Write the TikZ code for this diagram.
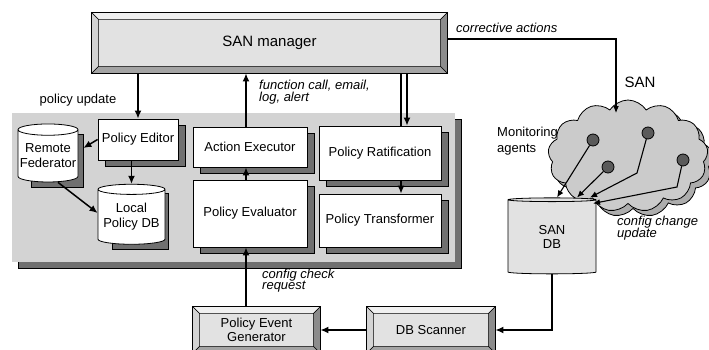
\documentclass[tikz,border=0pt]{standalone}
\usepackage{fontspec}
\setmainfont{Liberation Sans}
\usetikzlibrary{arrows.meta,shapes.geometric,shapes.symbols,shadows,positioning}
\definecolor{panelgray}{HTML}{D3D3D3}
\definecolor{shadegray}{HTML}{707070}
\definecolor{facegray}{HTML}{E2E2E2}
\definecolor{cloudgray}{HTML}{CBCBCB}
\definecolor{dotgray}{HTML}{5A5A5A}
\definecolor{bevtop}{HTML}{F0F0F0}
\definecolor{bevleft}{HTML}{D4D4D4}
\definecolor{bevright}{HTML}{8C8C8C}
\definecolor{bevbot}{HTML}{A4A4A4}
\pgfdeclarelayer{back}
\pgfdeclarelayer{shade}
\pgfsetlayers{back,shade,main}
\newcommand{\tightlines}{\lineskiplimit=-20pt\relax}
\tikzset{
  basic/.style   = {draw, line width=0.8pt, font=\fontsize{13}{15}\selectfont, align=center},
  module/.style  = {basic, rectangle, fill=white, inner sep=0pt,
                    drop shadow={shadow xshift=7pt, shadow yshift=-6pt, fill=shadegray, draw=black, opacity=1}},
  store/.style   = {basic, cylinder, shape border rotate=90, fill=white, inner sep=0pt, aspect=0.2},
  bevelbox/.style = {basic, rectangle, fill=facegray, inner sep=0pt},
  agent/.style   = {circle, draw, line width=0.8pt, fill=dotgray, minimum size=12pt, inner sep=0pt},
  caption/.style = {font=\fontsize{13}{16}\selectfont, inner sep=0pt},
  note/.style    = {font=\fontsize{13}{11.5}\selectfont\itshape\tightlines, align=left, inner sep=0pt},
  arr/.style     = {line width=1.5pt, -{Latex[length=8pt,width=7pt]}},
  tip/.style     = {line width=1.1pt, -{Latex[length=7pt,width=6pt]}}
}
% raised frame round a beveled node
\newcommand{\bevels}[1]{%
  \filldraw[fill=bevtop, line width=0.5pt] (#1.north west) -- (#1.north east) -- ([shift={(-7,-7)}]#1.north east) -- ([shift={(7,-7)}]#1.north west) -- cycle;
  \filldraw[fill=bevleft, line width=0.5pt] (#1.north west) -- ([shift={(7,-7)}]#1.north west) -- ([shift={(7,7)}]#1.south west) -- (#1.south west) -- cycle;
  \filldraw[fill=bevright, line width=0.5pt] (#1.north east) -- ([shift={(-7,-7)}]#1.north east) -- ([shift={(-7,7)}]#1.south east) -- (#1.south east) -- cycle;
  \filldraw[fill=bevbot, line width=0.5pt] (#1.south west) -- ([shift={(7,7)}]#1.south west) -- ([shift={(-7,7)}]#1.south east) -- (#1.south east) -- cycle;
  \draw[line width=0.8pt] (#1.north west) rectangle (#1.south east);
}
\begin{document}
\begin{tikzpicture}[x=1pt,y=1pt]
\useasboundingbox (0,0) rectangle (709,349);
\clip (0,0) rectangle (709,349);

% policy engine panel
\begin{pgfonlayer}{back}
  \filldraw[fill=shadegray, line width=0.8pt] (18,81) rectangle (461,230);
  \fill[panelgray] (12,87) rectangle (455,236);
\end{pgfonlayer}

\node[bevelbox, minimum width=355pt, minimum height=60pt, font=\fontsize{15}{18}\selectfont] (mgr) at (269.5,306) {SAN manager};
\bevels{mgr}

\node[module, minimum width=80pt, minimum height=41pt] (edit) at (138,209.5) {Policy Editor};
\node[module, minimum width=114pt, minimum height=40pt] (exec) at (250,202) {Action Executor};
\node[module, minimum width=114pt, minimum height=67pt] (eval) at (250,135.5) {Policy Evaluator};
\node[module, minimum width=122pt, minimum height=54pt] (rat) at (380,196) {Policy Ratification};
\node[module, minimum width=122pt, minimum height=53pt] (trans) at (380,128.5) {Policy Transformer};

\node[store, minimum width=60pt, minimum height=58pt] (fed) at (48,193) {Remote\\Federator};
\node[store, minimum width=67pt, minimum height=60pt, aspect=0.18] (ldb) at (131.5,132) {Local\\Policy DB};
\begin{pgfonlayer}{shade}
  \foreach \s in {fed,ldb}
    \filldraw[fill=shadegray, line width=0.8pt] ([shift={(7,-7)}]\s.south west) rectangle ([shift={(7,-7)}]\s.north east);
\end{pgfonlayer}

\node[bevelbox, minimum width=127pt, minimum height=46pt, font=\fontsize{13}{14}\selectfont] (gen) at (256.5,19) {Policy Event\\Generator};
\bevels{gen}
\node[bevelbox, minimum width=128pt, minimum height=46pt] (scan) at (431,19) {DB Scanner};
\bevels{scan}

% the SAN
\node[cloud, cloud puffs=13, cloud puff arc=115, aspect=1.5, draw, line width=0.8pt, fill=cloudgray,
      minimum width=160pt, minimum height=112pt, inner sep=0pt,
      drop shadow={shadow xshift=5pt, shadow yshift=-5pt, fill=cloudgray!85!black, draw=black, opacity=1}] (san) at (628,193) {};
\node[store, minimum width=88pt, minimum height=76pt, aspect=0.14, fill=facegray, font=\fontsize{13}{14}\selectfont] (sandb) at (552,112) {SAN\\DB};
\node[agent] (a1) at (593,209) {};
\node[agent] (a2) at (648,216) {};
\node[agent] (a3) at (608,182) {};
\node[agent] (a4) at (683,189) {};

% connectors
\coordinate (spine) at (246,0);
\coordinate (ratL) at (401,0);
\coordinate (ratR) at (407,0);
\coordinate (drop) at (616,236);
\draw[arr] (mgr.south -| edit.north) -- (edit.north);
\draw[arr] (exec.north -| spine) -- (mgr.south -| spine);
\draw[arr] (eval.north -| spine) -- (exec.south -| spine);
\draw[arr] (gen.north -| spine) -- (eval.south -| spine);
\draw[line width=1.5pt] (mgr.south -| ratL) -- (rat.north -| ratL);
\draw[arr] (mgr.south -| ratR) -- (rat.north -| ratR);
\draw[arr] (rat.south -| ratL) -- (trans.north -| ratL);
\draw[arr] (edit.west) -- ([shift={(5,8)}]fed.east);
\draw[arr] ([xshift=10]fed.south) -- ([yshift=4]ldb.west);
\draw[arr] (edit.south -| ldb.north) -- (ldb.north);
\draw[arr] (scan.west) -- (gen.east);
\draw[arr] (sandb.south) |- (scan.east);
\draw[tip] ([yshift=4]mgr.east) -| (drop);
\draw[tip] (a1) -- ([xshift=5]sandb.north);
\draw[tip] (a3) -- ([xshift=25]sandb.north);
\draw[tip] (a2) -- ++(-11,-40) -- ([xshift=38]sandb.north);
\draw[tip] (a4) -- ++(-6,-27) -- ([shift={(41,-6)}]sandb.north);

% texts
\node[caption] (pu) at (78,249) {policy update};
\node[note, anchor=west] (fc) at (259,257) {function call, email,\\log, alert};
\node[note, anchor=west] (ca) at (456,321) {corrective actions};
\node[caption, font=\fontsize{15}{18}\selectfont] (sanlbl) at (640,267) {SAN};
\node[caption, anchor=west, align=left] (mon) at (497,208) {Monitoring\\agents};
\node[note, anchor=west] (ccu) at (617,121) {config change\\update};
\node[note, anchor=west] (ccr) at (262,68.5) {config check\\request};
\end{tikzpicture}
\end{document}
